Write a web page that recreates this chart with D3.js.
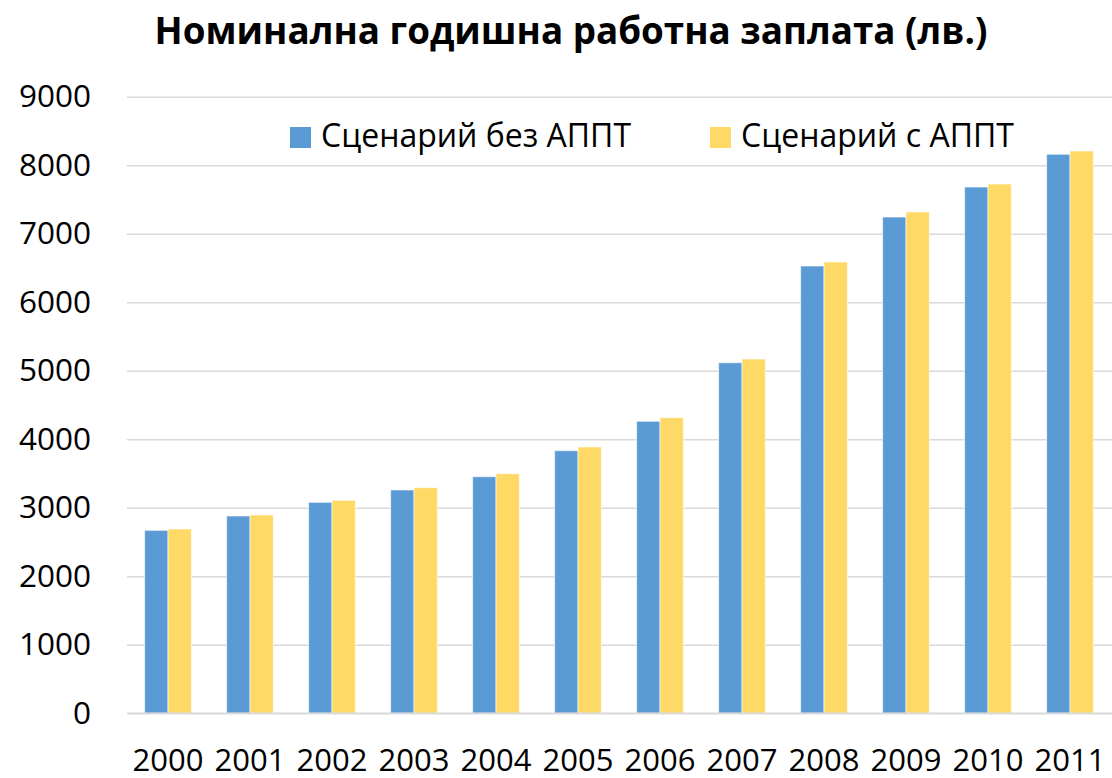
<!DOCTYPE html>
<html><head><meta charset="utf-8">
<script src="https://cdn.jsdelivr.net/npm/d3@7"></script>
<style>
html,body{margin:0;padding:0;background:#fff;}
svg{display:block;}
text{font-family:"Open Sans",sans-serif;fill:#000;}
</style></head>
<body>
<svg id="chart" width="1112" height="778"></svg>
<script>
const title = "Номинална годишна работна заплата (лв.)";
const years = ["2000","2001","2002","2003","2004","2005","2006","2007","2008","2009","2010","2011"];
const seriesNames = ["Сценарий без АППТ","Сценарий с АППТ"];
const seriesColors = ["#5B9BD5","#FFD966"];
const withoutAPPT = [2671,2880,3080,3260,3454,3834,4263,5118,6530,7245,7683,8161];
const withAPPT    = [2690,2895,3109,3294,3498,3888,4315,5172,6589,7319,7727,8209];
const yTicks = [0,1000,2000,3000,4000,5000,6000,7000,8000,9000];

const svg = d3.select("#chart");
const plotLeft = 127, plotRight = 1111, plotTop = 96.8, plotBottom = 713.3;

const x0 = d3.scaleBand().domain(years).range([plotLeft,plotRight]).paddingInner(0.43).paddingOuter(0.215);
const x1 = d3.scaleBand().domain([0,1]).range([0,x0.bandwidth()]);
const y = d3.scaleLinear().domain([0,9000]).range([plotBottom,plotTop]);

// gridlines + y labels
const yAxis = d3.axisLeft(y).tickValues(yTicks).tickSize(-(plotRight-plotLeft+1)).tickPadding(36).tickFormat(d3.format("d"));
const gy = svg.append("g").attr("transform",`translate(${plotLeft},0)`).call(yAxis);
gy.select(".domain").remove();
gy.selectAll(".tick line").attr("stroke","#D9D9D9").attr("stroke-width",1.5);
gy.selectAll(".tick text").attr("font-size",31.5).attr("fill","#000").attr("font-family","'Open Sans',sans-serif");

// bars
const data = years.map((yr,i)=>({year:yr, vals:[withoutAPPT[i],withAPPT[i]]}));
const groups = svg.append("g").selectAll("g").data(data).join("g")
  .attr("transform",d=>`translate(${x0(d.year)},0)`);
groups.selectAll("rect").data(d=>d.vals.map((v,k)=>({v,k}))).join("rect")
  .attr("x",d=>x1(d.k)).attr("width",x1.bandwidth())
  .attr("y",d=>y(d.v)).attr("height",d=>y(0)-y(d.v))
  .attr("fill",d=>seriesColors[d.k])
  .attr("stroke","rgba(255,255,255,0.6)").attr("stroke-width",1);

// x axis
const xAxis = d3.axisBottom(x0).tickSize(0).tickPadding(36);
const gx = svg.append("g").attr("transform",`translate(0,${plotBottom})`).call(xAxis);
gx.select(".domain").remove();
gx.selectAll(".tick text").attr("font-size",31).attr("fill","#000").attr("font-family","'Open Sans',sans-serif");
svg.append("line").attr("x1",plotLeft).attr("x2",plotRight+1).attr("y1",plotBottom).attr("y2",plotBottom)
  .attr("stroke","#D9D9D9").attr("stroke-width",1.5);

// title
svg.append("text").attr("x",571).attr("y",44).attr("text-anchor","middle")
  .attr("font-size",36.8).attr("font-weight","bold").text(title);

// legend
const legX = [290,710];
seriesNames.forEach((n,i)=>{
  svg.append("rect").attr("x",legX[i]).attr("y",127).attr("width",21).attr("height",21).attr("fill",seriesColors[i]);
  svg.append("text").attr("x",legX[i]+31).attr("y",147).attr("font-size",32).text(n);
});
</script>
</body></html>
